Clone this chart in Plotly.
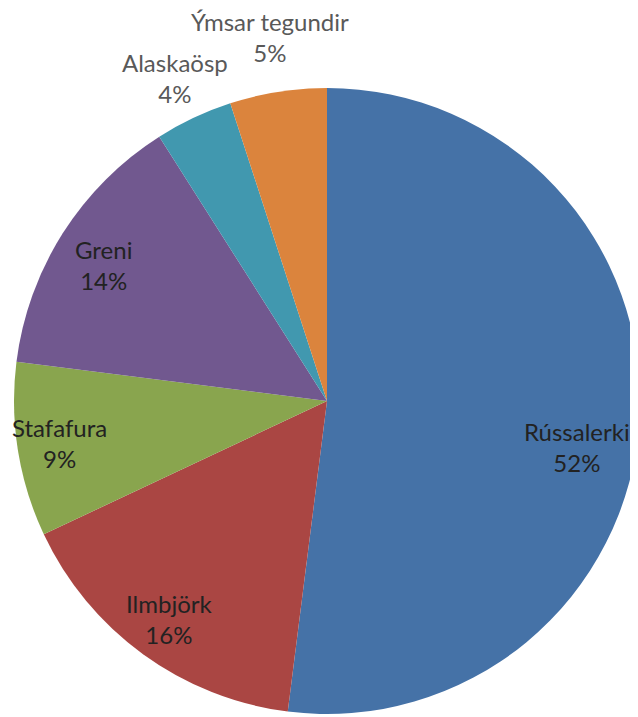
import numpy as np
import plotly.graph_objects as go

labels = ['Rússalerki', 'Ilmbjörk', 'Stafafura', 'Greni', 'Alaskaösp', 'Ýmsar tegundir']
values = [52, 16, 9, 14, 4, 5]
colors = ['#4572A7', '#AA4643', '#89A54E', '#71588F', '#4198AF', '#DB843D']

# how far out each label sits (fraction of the radius), like Excel's best fit
label_radius = [0.8, 0.86, 0.865, 0.845, 1.14, 1.17]
label_yshift = [-30, 0, 0, -6, 0, 2]
label_color = ['#222222'] * 4 + ['#595959'] * 2

fig = go.Figure()
fig.add_trace(go.Pie(
  labels=labels,
  values=values,
  sort=False,
  direction='clockwise',
  rotation=0,
  marker=dict(colors=colors, line=dict(width=0)),
  textinfo='none',
  showlegend=False,
  hoverinfo='label+percent',
))

# label positions from the mid angle of each slice (clockwise from 12 o'clock)
vals = np.array(values, dtype=float)
frac = vals / vals.sum()
mid = (np.cumsum(frac) - frac / 2) * 2 * np.pi
for lab, f, ang, r, dy, c in zip(labels, frac, mid, label_radius, label_yshift, label_color):
  fig.add_annotation(
    x=0.5 + 0.5 * r * np.sin(ang),
    y=0.5 + 0.5 * r * np.cos(ang),
    xref='paper', yref='paper',
    xanchor='center', yanchor='middle',
    yshift=dy,
    text=f'{lab}<br>{f * 100:.0f}%',
    showarrow=False,
    font=dict(color=c),
  )

# body has an 8px margin in the page, margins below compensate
fig.update_layout(
  width=638, height=717,
  margin=dict(l=6, r=6, t=80, b=11),
  paper_bgcolor='white',
  font=dict(family='Lato, Open Sans, sans-serif', size=24),
)

fig.write_html("out.html")
